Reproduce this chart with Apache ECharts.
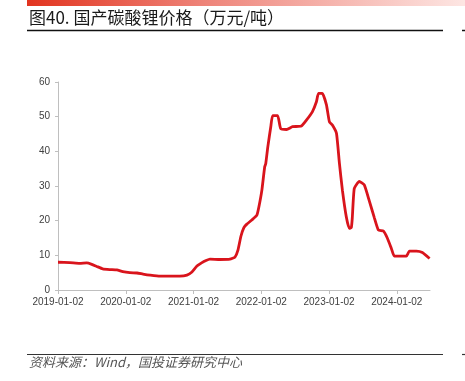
<!DOCTYPE html>
<html>
<head>
<meta charset="utf-8">
<script src="https://cdn.jsdelivr.net/npm/echarts@6/dist/echarts.min.js"></script>
<style>
  html, body { margin: 0; padding: 0; background: #fff; }
  #chart { width: 465px; height: 381px; }
</style>
</head>
<body>
<div id="chart"></div>
<script>
// 国产碳酸锂价格（万元/吨），读图估计
const dates = [
  '2019-01-02', '2019-03-07', '2019-04-29', '2019-06-06', '2019-07-03', '2019-07-30',
  '2019-08-31', '2019-10-08', '2019-11-15', '2019-12-17', '2020-01-24', '2020-03-03',
  '2020-04-04', '2020-05-12', '2020-07-04', '2020-08-28', '2020-10-20', '2020-11-27',
  '2020-12-24', '2021-01-20', '2021-02-16', '2021-03-10', '2021-03-31', '2021-05-24',
  '2021-07-17', '2021-08-13', '2021-08-29', '2021-09-14', '2021-09-30', '2021-10-16',
  '2021-11-12', '2021-12-09', '2021-12-20', '2022-01-05', '2022-01-20', '2022-01-26',
  '2022-02-06', '2022-02-22', '2022-03-04', '2022-03-31', '2022-04-16', '2022-05-18',
  '2022-06-19', '2022-08-06', '2022-09-02', '2022-10-04', '2022-10-26', '2022-11-06',
  '2022-11-27', '2022-12-19', '2023-01-04', '2023-01-20', '2023-02-11', '2023-02-27',
  '2023-03-15', '2023-04-05', '2023-04-21', '2023-05-02', '2023-05-07', '2023-05-18',
  '2023-06-14', '2023-07-11', '2023-08-07', '2023-09-03', '2023-09-25', '2023-10-22',
  '2023-11-12', '2023-12-04', '2023-12-20', '2024-02-23', '2024-03-10', '2024-04-17',
  '2024-05-19', '2024-06-27'
];
const prices = [
  8.0, 7.9, 7.7, 7.8, 7.4, 6.8,
  6.1, 5.9, 5.8, 5.3, 5.0, 4.9,
  4.6, 4.3, 4.0, 4.0, 4.0, 4.3,
  5.2, 6.9, 7.9, 8.5, 8.9, 8.8,
  8.9, 9.5, 11.5, 15.5, 18.0, 19.0,
  20.2, 21.6, 24.0, 28.8, 35.5, 36.5,
  41.3, 47.1, 50.3, 50.3, 46.6, 46.3,
  47.1, 47.3, 49.0, 51.4, 54.3, 56.7,
  56.7, 53.4, 48.5, 47.6, 45.2, 36.5,
  28.8, 21.1, 17.8, 18.0, 20.5, 29.3,
  31.3, 30.3, 25.7, 20.9, 17.3, 17.0,
  15.0, 12.0, 9.8, 9.8, 11.2, 11.2,
  10.8, 9.1
];
const tickLabels = ['2019-01-02', '2020-01-02', '2021-01-02', '2022-01-02', '2023-01-02', '2024-01-02'];

const start = Date.parse(tickLabels[0]);
const YEAR = 365.25 * 864e5;
const toYears = (d) => (Date.parse(d) - start) / YEAR;
const seriesData = dates.map((d, i) => [toYears(d), prices[i]]);
const tickPos = tickLabels.map((d) => Math.round(toYears(d)));

const chart = echarts.init(document.getElementById('chart'));

const option = {
  animation: false,
  grid: { left: 58, right: 35, top: 82, bottom: 91 },
  graphic: [
    {
      type: 'rect',
      shape: { x: 27, y: 0, width: 438, height: 6 },
      style: {
        fill: new echarts.graphic.LinearGradient(0, 0, 1, 0, [
          { offset: 0, color: '#e2341f' },
          { offset: 0.4, color: '#ee8378' },
          { offset: 1, color: '#fde6e3' }
        ])
      }
    },
    {
      type: 'text',
      left: 29,
      top: 9,
      style: {
        text: '图40. 国产碳酸锂价格（万元/吨）',
        font: '17px "Noto Sans CJK SC"',
        fill: '#1a1a1a'
      }
    },
    {
      type: 'line',
      shape: { x1: 27, y1: 30.5, x2: 443, y2: 30.5 },
      style: { stroke: '#111', lineWidth: 1.5 }
    },
    {
      type: 'line',
      shape: { x1: 462, y1: 30.5, x2: 465, y2: 30.5 },
      style: { stroke: '#111', lineWidth: 1.5 }
    },
    {
      type: 'line',
      shape: { x1: 27, y1: 354.5, x2: 443, y2: 354.5 },
      style: { stroke: '#333', lineWidth: 1.2 }
    },
    {
      type: 'line',
      shape: { x1: 462, y1: 354.5, x2: 465, y2: 354.5 },
      style: { stroke: '#333', lineWidth: 1.2 }
    },
    {
      type: 'text',
      left: 29,
      top: 356,
      style: {
        text: '资料来源：Wind，国投证券研究中心',
        font: 'italic 13px "Noto Sans CJK SC"',
        fill: '#555'
      }
    }
  ],
  xAxis: {
    type: 'value',
    min: 0,
    max: 5.49,
    interval: 1,
    splitLine: { show: false },
    axisLine: { show: true, lineStyle: { color: '#bfbfbf', width: 1 } },
    axisTick: {
      show: true,
      customValues: tickPos,
      length: 4,
      lineStyle: { color: '#bfbfbf' }
    },
    axisLabel: {
      customValues: tickPos,
      formatter: (v) => tickLabels[Math.round(v)] || '',
      color: '#404040',
      fontSize: 10,
      fontFamily: 'Liberation Sans, Arial, sans-serif',
      margin: 7
    }
  },
  yAxis: {
    type: 'value',
    min: 0,
    max: 60,
    interval: 10,
    splitLine: { show: false },
    axisLine: { show: true, lineStyle: { color: '#bfbfbf', width: 1 } },
    axisTick: { show: true, length: 3, lineStyle: { color: '#bfbfbf' } },
    axisLabel: {
      color: '#404040',
      fontSize: 10,
      fontFamily: 'Liberation Sans, Arial, sans-serif',
      margin: 8
    }
  },
  series: [
    {
      type: 'line',
      data: seriesData,
      showSymbol: false,
      smooth: 0.15,
      lineStyle: { color: '#d9141c', width: 2.8 },
      itemStyle: { color: '#d9141c' }
    }
  ]
};

chart.setOption(option);
</script>
</body>
</html>
